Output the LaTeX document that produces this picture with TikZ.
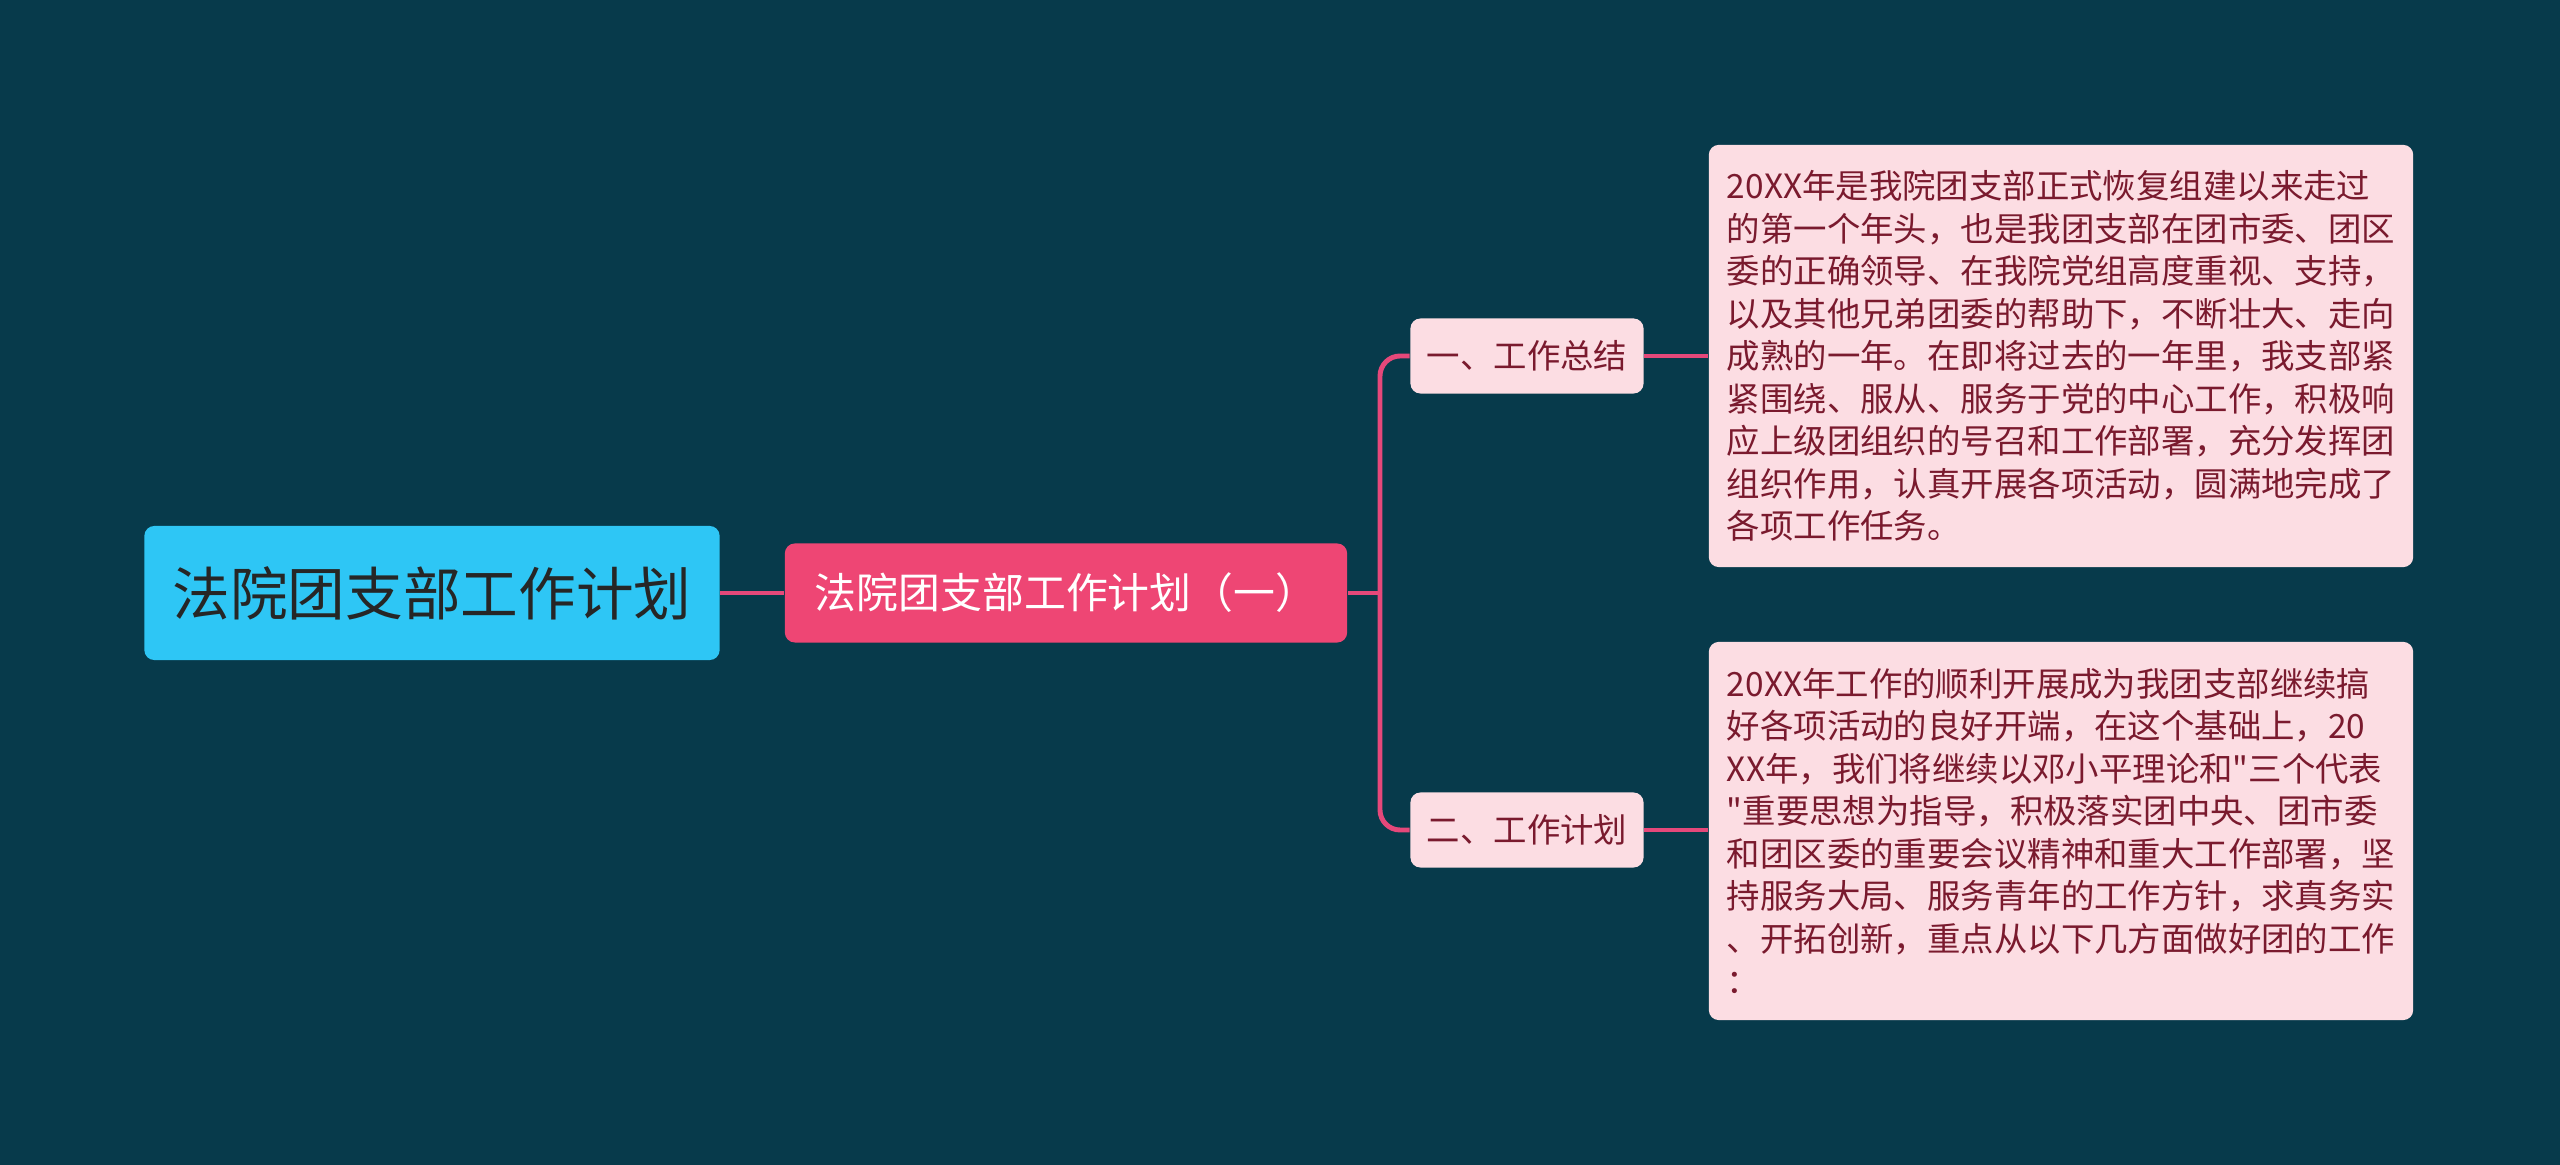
\documentclass[tikz,border=0pt]{standalone}
\usepackage{fontspec}
\setmainfont{Noto Sans CJK SC}[Ligatures=TeXOff]
\usepackage{tikz}
\usetikzlibrary{arrows.meta, positioning, calc}
\definecolor{BGcol}{HTML}{073A4B}
\definecolor{ROOTcol}{HTML}{2EC6F5}
\definecolor{MAINcol}{HTML}{EE4674}
\definecolor{SUBcol}{HTML}{FCDDE3}
\definecolor{SUBtext}{HTML}{7A1A2E}
\definecolor{LINKcol}{HTML}{E5487A}

\begin{document}
\begin{tikzpicture}[
  x=0.01cm, y=-0.01cm,
  rootbox/.style={rectangle, rounded corners=0.1cm, fill=ROOTcol, text=black!85,
                  minimum width=5.75cm, minimum height=1.34cm, inner sep=0pt,
                  font=\fontsize{16.4pt}{20pt}\selectfont},
  mainbox/.style={rectangle, rounded corners=0.1cm, fill=MAINcol, text=white,
                  minimum width=5.62cm, minimum height=0.99cm, inner sep=0pt,
                  font=\fontsize{11.9pt}{14pt}\selectfont},
  subbox/.style={rectangle, rounded corners=0.1cm, fill=SUBcol, text=SUBtext,
                 minimum width=2.33cm, minimum height=0.75cm, inner sep=0pt,
                 font=\fontsize{9.5pt}{12pt}\selectfont},
  leafbox/.style={rectangle, rounded corners=0.1cm, fill=SUBcol, text=SUBtext,
                  minimum width=7.04cm, inner sep=0pt, align=left,
                  font=\fontsize{9.5pt}{12.1pt}\selectfont},
  link/.style={draw=LINKcol, line width=1.4pt},
]
\fill[BGcol] (0,0) rectangle (2560,1165);
\useasboundingbox (0,0) rectangle (2560,1165);

\node[rootbox] (root) at (432,593) {法院团支部工作计划};
\node[mainbox] (plan) at (1066,593) {法院团支部工作计划（一）};
\node[subbox] (sum) at (1527,356) {一、工作总结};
\node[subbox] (todo) at (1527,830) {二、工作计划};

\node[leafbox, minimum height=4.22cm] (sumtxt) at (2061,356)
  {20XX年是我院团支部正式恢复组建以来走过\\
   的第一个年头，也是我团支部在团市委、团区\\
   委的正确领导、在我院党组高度重视、支持，\\
   以及其他兄弟团委的帮助下，不断壮大、走向\\
   成熟的一年。在即将过去的一年里，我支部紧\\
   紧围绕、服从、服务于党的中心工作，积极响\\
   应上级团组织的号召和工作部署，充分发挥团\\
   组织作用，认真开展各项活动，圆满地完成了\\
   各项工作任务。};
\node[leafbox, minimum height=3.78cm] (todotxt) at (2061,831)
  {20XX年工作的顺利开展成为我团支部继续搞\\
   好各项活动的良好开端，在这个基础上，20\\
   XX年，我们将继续以邓小平理论和"三个代表\\
   "重要思想为指导，积极落实团中央、团市委\\
   和团区委的重要会议精神和重大工作部署，坚\\
   持服务大局、服务青年的工作方针，求真务实\\
   、开拓创新，重点从以下几方面做好团的工作\\
   ：};

\coordinate (fork) at (1380,593);
\draw[link] (root.east) -- (plan.west);
\draw[link] (plan.east) -- (fork);
\draw[link, rounded corners=0.2cm] (fork) |- (sum.west);
\draw[link, rounded corners=0.2cm] (fork) |- (todo.west);
\draw[link] (sum.east) -- (sum.east -| sumtxt.west);
\draw[link] (todo.east) -- (todo.east -| todotxt.west);
\end{tikzpicture}
\end{document}
